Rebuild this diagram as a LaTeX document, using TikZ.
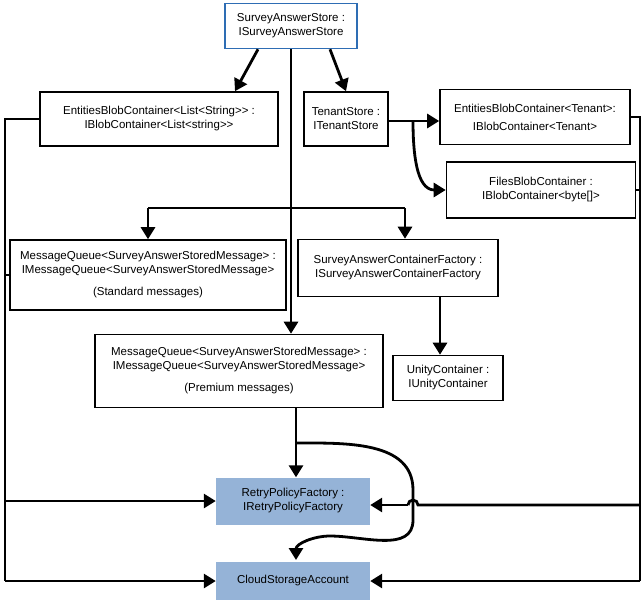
\documentclass[tikz,border=0pt]{standalone}
\usepackage{fontspec}
\setmainfont{Liberation Sans}
\usetikzlibrary{arrows.meta}
\definecolor{boxblue}{HTML}{95B3D7}
\definecolor{edgeblue}{HTML}{2E6DB4}
\tikzset{
  comp/.style={draw, line width=1.6pt, fill=white, align=center, font=\fontsize{11.5}{14}\selectfont, inner sep=2pt},
  acct/.style={fill=boxblue, align=center, font=\fontsize{11.5}{14}\selectfont, inner sep=2pt},
  dep/.style={line width=2.8pt, -{Triangle[length=12pt,width=14pt]}},
  wire/.style={line width=2.8pt}
}
\begin{document}
\begin{tikzpicture}[x=1pt,y=-1pt]
\useasboundingbox (0,0) rectangle (644,600);
% components
\node [comp, draw=edgeblue, minimum width=132pt, minimum height=45pt] (sas) at (291,26) {SurveyAnswerStore :\\ISurveyAnswerStore};
\node [comp, minimum width=238pt, minimum height=54pt] (ebcl) at (159,119) {EntitiesBlobContainer<List<String>{}> :\\IBlobContainer<List<string>{}>};
\node [comp, minimum width=84pt, minimum height=54pt] (ts) at (346,119) {TenantStore :\\ITenantStore};
\node [comp, minimum width=190pt, minimum height=55pt] (ebct) at (535,117) {EntitiesBlobContainer<Tenant>:\\[4pt]IBlobContainer<Tenant>};
\node [comp, minimum width=189pt, minimum height=56pt] (fbc) at (541,190) {FilesBlobContainer :\\IBlobContainer<byte[]>};
\node [comp, minimum width=276pt, minimum height=70pt] (mqs) at (148,275) {MessageQueue<SurveyAnswerStoredMessage> :\\IMessageQueue<SurveyAnswerStoredMessage>\\[8pt](Standard messages)};
\node [comp, minimum width=200pt, minimum height=57pt] (sacf) at (398,268) {SurveyAnswerContainerFactory :\\ISurveyAnswerContainerFactory};
\node [comp, minimum width=288pt, minimum height=73pt] (mqp) at (239,371) {MessageQueue<SurveyAnswerStoredMessage> :\\IMessageQueue<SurveyAnswerStoredMessage>\\[8pt](Premium messages)};
\node [comp, minimum width=110pt, minimum height=45pt] (uc) at (448,378) {UnityContainer :\\IUnityContainer};
\node [acct, minimum width=154pt, minimum height=47pt] (rpf) at (293,501) {RetryPolicyFactory :\\IRetryPolicyFactory};
\node [acct, minimum width=154pt, minimum height=38pt] (csa) at (293,581) {CloudStorageAccount};
% junctions
\coordinate (lft) at (5,0);
\coordinate (rgt) at (640,0);
\coordinate (split) at (291,208);
\coordinate (tsj) at (413,121);
\coordinate (hop) at (413,505);
\coordinate (ucx) at (440,0);
% connectors from the store
\draw [dep] ([xshift=-33pt]sas.south) -- ([xshift=76pt]ebcl.north);
\draw [dep] ([xshift=39pt]sas.south) -- (ts.north);
\draw [line width=1.2pt] (sas.south) -- (split);
\draw [dep] (split) -- (mqp.north -| split);
\draw [wire] (split) -- (148,208);
\draw [dep] (148,208) -- (mqs.north);
\draw [wire] (split) -- (405,208);
\draw [dep] (405,208) -- (sacf.north -| 405,0);
\draw [dep] (ts.east |- tsj) -- (ebct.west |- tsj);
\draw [dep] (tsj) to[out=-90,in=180] (fbc.west);
\draw [dep] (sacf.south -| ucx) -- (uc.north -| ucx);
% left bus
\draw [wire] (ebcl.west) -- (ebcl.west -| lft) -- (lft |- csa);
\draw [wire] (mqs.west) -- (mqs.west -| lft);
\draw [dep] (lft |- rpf) -- (rpf.west);
\draw [dep] (lft |- csa) -- (csa.west);
% right bus
\draw [wire] (ebct.east) -- (ebct.east -| rgt) -- (rgt |- csa);
\draw [wire] (fbc.east) -- (fbc.east -| rgt);
\draw [wire] (rgt |- hop) -- ([xshift=5pt]hop) arc (0:180:5pt);
\draw [dep] ([xshift=-5pt]hop) -- (rpf.east |- hop);
\draw [dep] (rgt |- csa) -- (csa.east);
% premium queue to factory and account
\draw [dep] (mqp.south -| 296,0) -- (rpf.north -| 296,0);
\draw [dep] (296,443) to[out=0,in=90] (413,490) -- (413,520) to[out=-90,in=0] (330,536) to[out=180,in=90] (296,560);
\end{tikzpicture}
\end{document}
